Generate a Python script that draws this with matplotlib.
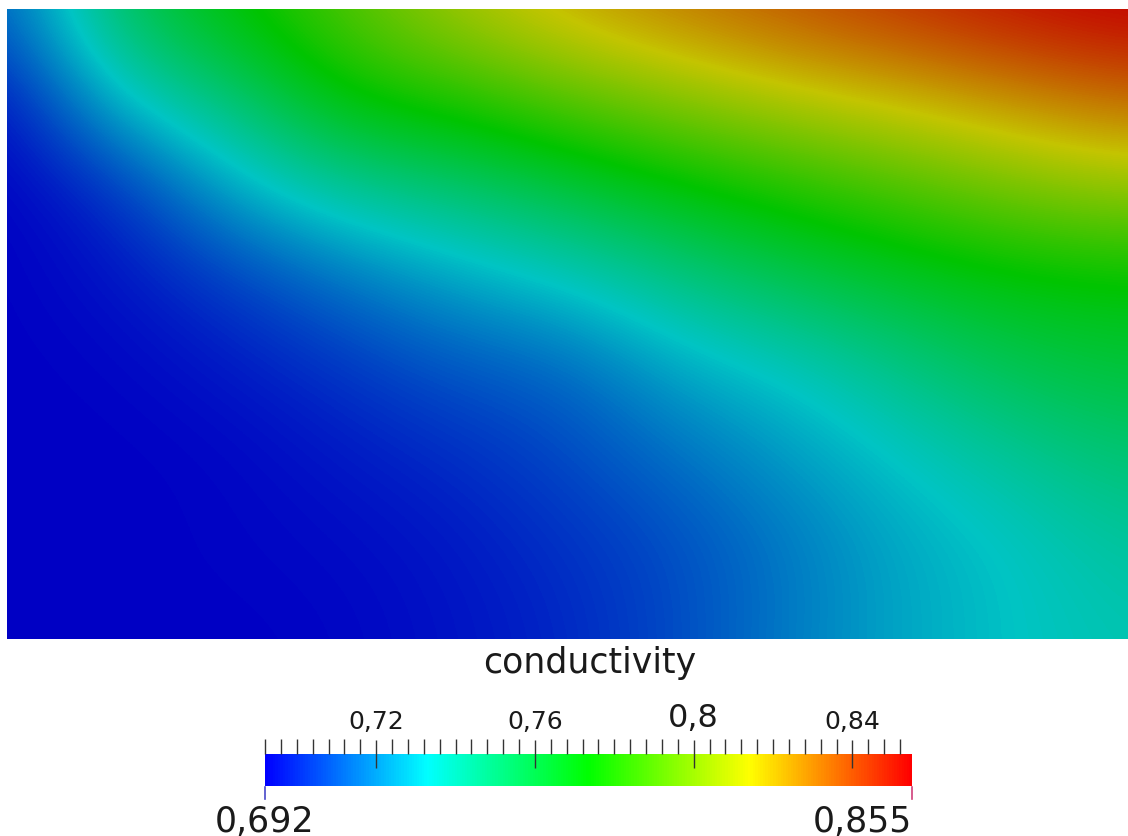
import numpy as np
import matplotlib
matplotlib.use('Agg')
from matplotlib import pyplot as plt
from matplotlib.colors import ListedColormap, Normalize, hsv_to_rgb
from matplotlib.cm import ScalarMappable

# conductivity sampled on a coarse grid, rows top -> bottom, columns left -> right
row0 = [0.712, 0.755, 0.773, 0.790, 0.808, 0.821, 0.830, 0.838, 0.845, 0.852, 0.856]
row1 = [0.695, 0.733, 0.749, 0.774, 0.780, 0.792, 0.802, 0.811, 0.818, 0.826, 0.834]
row2 = [0.692, 0.702, 0.727, 0.742, 0.750, 0.760, 0.771, 0.780, 0.789, 0.798, 0.804]
row3 = [0.692, 0.696, 0.705, 0.716, 0.726, 0.734, 0.746, 0.757, 0.765, 0.771, 0.773]
row4 = [0.692, 0.693, 0.697, 0.703, 0.710, 0.713, 0.727, 0.734, 0.746, 0.757, 0.762]
row5 = [0.692, 0.692, 0.693, 0.697, 0.701, 0.707, 0.715, 0.724, 0.733, 0.742, 0.750]
row6 = [0.692, 0.692, 0.693, 0.694, 0.697, 0.702, 0.708, 0.717, 0.727, 0.733, 0.741]
row7 = [0.692, 0.692, 0.692, 0.693, 0.696, 0.700, 0.708, 0.718, 0.727, 0.733, 0.737]

vmin, vmax = 0.692, 0.855
major_ticks = [0.72, 0.76, 0.80, 0.84]
major_labels = ['0,72', '0,76', '0,8', '0,84']
minor_step = 0.004

field = np.array([row0, row1, row2, row3, row4, row5, row6, row7])


def rainbow(value, n=256):
    # blue -> red along the HSV hue circle
    hues = np.linspace(2 / 3, 0, n)
    hsv = np.stack([hues, np.ones(n), np.full(n, value)], axis=1)
    return ListedColormap(hsv_to_rgb(hsv))


cmap_bar = rainbow(1.0)
cmap_lit = rainbow(0.77)   # surface is drawn with lighting, so a bit darker
norm = Normalize(vmin, vmax)

plt.rcParams['font.family'] = ['DejaVu Sans']
fig = plt.figure(figsize=(11.28, 8.37), dpi=100)

# ---- the field ----
ax = fig.add_axes([7 / 1128, 1 - 640 / 837, 1121 / 1128, 630 / 837])
ny, nx = field.shape
dx = 1 / (nx - 1)
dy = 1 / (ny - 1)
ax.imshow(field, cmap=cmap_lit, norm=norm, origin='upper', aspect='auto',
          interpolation='bicubic',
          extent=[-dx / 2, 1 + dx / 2, -dy / 2, 1 + dy / 2])
ax.set_xlim(0, 1)
ax.set_ylim(0, 1)
ax.axis('off')

# ---- scalar bar ----
fig.text(590 / 1128, 1 - 673 / 837, 'conductivity', ha='center', va='baseline',
         fontsize=25, color='#1a1a1a')

cax = fig.add_axes([265 / 1128, 1 - 787 / 837, 647 / 1128, 32 / 837])
cb = fig.colorbar(ScalarMappable(norm=norm, cmap=cmap_bar), cax=cax,
                  orientation='horizontal')
cb.outline.set_visible(False)
cax.xaxis.set_ticks_position('top')
cax.xaxis.set_label_position('top')
cax.set_xticks(major_ticks)
cax.set_xticklabels(major_labels)
minor = [vmin + k * minor_step for k in range(int((vmax - vmin) / minor_step) + 1)]
cax.set_xticks(minor, minor=True)
cax.tick_params(axis='x', which='major', direction='inout', length=20, width=1.0,
                color='#333333', pad=5, labelsize=18, labelcolor='#1a1a1a')
cax.tick_params(axis='x', which='minor', direction='out', length=11, width=1.0,
                color='#333333')
for lab in cax.get_xticklabels():
    if lab.get_text() == '0,8':
        lab.set_fontsize(23)

# range markers under both ends
tr = cax.get_xaxis_transform()
cax.plot([vmin, vmin], [-0.02, -0.42], color='#4848c8', lw=1.2, transform=tr, clip_on=False)
cax.plot([vmax, vmax], [-0.02, -0.42], color='#d0407a', lw=1.2, transform=tr, clip_on=False)

fig.text(265 / 1128, 1 - 832 / 837, '0,692', ha='center', va='baseline',
         fontsize=25, color='#1a1a1a')
fig.text(912 / 1128, 1 - 832 / 837, '0,855', ha='right', va='baseline',
         fontsize=25, color='#1a1a1a')

fig.savefig('out.png', dpi=100)
